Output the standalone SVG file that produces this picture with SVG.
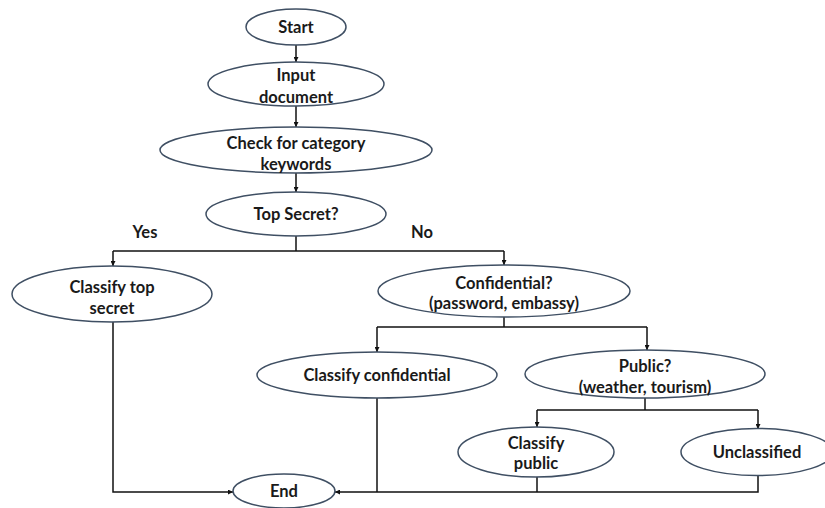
<svg xmlns="http://www.w3.org/2000/svg" width="825" height="508" viewBox="0 0 825 508">
<style>
.n ellipse{fill:#fff;stroke:#3f4f63;stroke-width:1.5}
text{font-family:Lato,"Liberation Sans",sans-serif;font-weight:bold;font-size:16.5px;fill:#1a1a1a;text-anchor:middle}
.c path{fill:none;stroke:#111;stroke-width:1.5}
</style>
<defs>
<marker id="a" viewBox="0 0 10 10" refX="10" refY="5" markerWidth="5" markerHeight="5" orient="auto" markerUnits="userSpaceOnUse"><path d="M0,0L10,5L0,10z" fill="#111"/></marker>
</defs>
<g class="c">
<path d="M296,45V62" marker-end="url(#a)"/>
<path d="M296,106V127" marker-end="url(#a)"/>
<path d="M296,173V192" marker-end="url(#a)"/>
<path d="M296,236V251"/>
<path d="M113,251H504"/>
<path d="M113,251V266" marker-end="url(#a)"/>
<path d="M504,251V265" marker-end="url(#a)"/>
<path d="M504,317V327"/>
<path d="M377,327H647"/>
<path d="M377,327V352" marker-end="url(#a)"/>
<path d="M647,327V350" marker-end="url(#a)"/>
<path d="M645,398V410"/>
<path d="M537,410H758"/>
<path d="M537,410V427" marker-end="url(#a)"/>
<path d="M758,410V429" marker-end="url(#a)"/>
<path d="M113,322V492H233" marker-end="url(#a)"/>
<path d="M377,398V492"/>
<path d="M537,477V492"/>
<path d="M758,476V492H335" marker-end="url(#a)"/>
</g>
<text x="145" y="238">Yes</text>
<text x="422" y="238">No</text>
<g id="start" class="n"><ellipse cx="296" cy="27" rx="50" ry="18"/><text x="296" y="33">Start</text></g>
<g id="input" class="n"><ellipse cx="296" cy="84" rx="88" ry="22"/><text x="296" y="81">Input</text><text x="296" y="103">document</text></g>
<g id="check" class="n"><ellipse cx="296" cy="150" rx="136" ry="23"/><text x="296" y="149">Check for category</text><text x="296" y="170">keywords</text></g>
<g id="topsecret" class="n"><ellipse cx="296" cy="214" rx="90" ry="22"/><text x="296" y="220">Top Secret?</text></g>
<g id="classifytop" class="n"><ellipse cx="112" cy="294" rx="100" ry="28"/><text x="112" y="293">Classify top</text><text x="112" y="314">secret</text></g>
<g id="confidential" class="n"><ellipse cx="504" cy="291" rx="126" ry="26"/><text x="504" y="289">Confidential?</text><text x="504" y="309">(password, embassy)</text></g>
<g id="classifyconf" class="n"><ellipse cx="377" cy="375" rx="120" ry="23"/><text x="377" y="381">Classify confidential</text></g>
<g id="public" class="n"><ellipse cx="645" cy="374" rx="120" ry="24"/><text x="645" y="372">Public?</text><text x="645" y="393">(weather, tourism)</text></g>
<g id="classifypublic" class="n"><ellipse cx="536" cy="452" rx="78" ry="25"/><text x="536" y="449">Classify</text><text x="536" y="469">public</text></g>
<g id="unclassified" class="n"><ellipse cx="757" cy="452" rx="76" ry="23.5"/><text x="757" y="458">Unclassified</text></g>
<g id="end" class="n"><ellipse cx="284" cy="491" rx="51" ry="17"/><text x="284" y="497">End</text></g>
</svg>
